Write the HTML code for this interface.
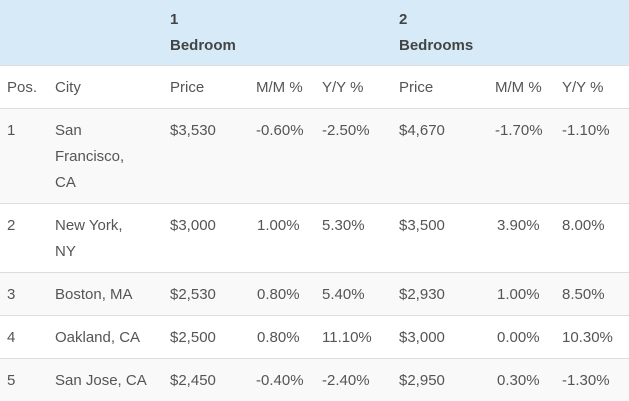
<!DOCTYPE html>
<html><head><style>
body{margin:0;width:629px;height:400px;overflow:hidden;background:#fff;font-family:"Liberation Sans",Arial,sans-serif;font-size:15px;color:#555;}
.r{position:absolute;left:0;width:629px;}
.t{position:absolute;line-height:26px;white-space:nowrap;margin-top:2px;}
.b{font-weight:bold;color:#444;}
</style></head><body>
<div class="r" style="top:0;height:65px;background:#d6ebf7;border-bottom:1px solid #ddd"></div>
<div class="r" style="top:108px;height:95px;background:#f9f9f9;border-top:1px solid #ddd"></div>
<div class="r" style="top:203px;height:69px;border-top:1px solid #ddd"></div>
<div class="r" style="top:272px;height:43px;background:#f9f9f9;border-top:1px solid #ddd"></div>
<div class="r" style="top:315px;height:43px;border-top:1px solid #ddd"></div>
<div class="r" style="top:358px;height:42px;background:#f9f9f9;border-top:1px solid #ddd"></div>

<div class="t b" style="left:170px;top:5px">1<br>Bedroom</div>
<div class="t b" style="left:399px;top:5px">2<br>Bedrooms</div>

<div class="t" style="left:7px;top:73px">Pos.</div>
<div class="t" style="left:55px;top:73px">City</div>
<div class="t" style="left:170px;top:73px">Price</div>
<div class="t" style="left:256px;top:73px">M/M %</div>
<div class="t" style="left:322px;top:73px">Y/Y %</div>
<div class="t" style="left:399px;top:73px">Price</div>
<div class="t" style="left:495px;top:73px">M/M %</div>
<div class="t" style="left:562px;top:73px">Y/Y %</div>

<div class="t" style="left:7px;top:116px">1</div>
<div class="t" style="left:55px;top:116px">San<br>Francisco,<br>CA</div>
<div class="t" style="left:170px;top:116px">$3,530</div>
<div class="t" style="left:256px;top:116px">-0.60%</div>
<div class="t" style="left:322px;top:116px">-2.50%</div>
<div class="t" style="left:399px;top:116px">$4,670</div>
<div class="t" style="left:495px;top:116px">-1.70%</div>
<div class="t" style="left:562px;top:116px">-1.10%</div>

<div class="t" style="left:7px;top:211px">2</div>
<div class="t" style="left:55px;top:211px">New York,<br>NY</div>
<div class="t" style="left:170px;top:211px">$3,000</div>
<div class="t" style="left:257px;top:211px">1.00%</div>
<div class="t" style="left:322px;top:211px">5.30%</div>
<div class="t" style="left:399px;top:211px">$3,500</div>
<div class="t" style="left:497px;top:211px">3.90%</div>
<div class="t" style="left:562px;top:211px">8.00%</div>

<div class="t" style="left:7px;top:280px">3</div>
<div class="t" style="left:55px;top:280px">Boston, MA</div>
<div class="t" style="left:170px;top:280px">$2,530</div>
<div class="t" style="left:257px;top:280px">0.80%</div>
<div class="t" style="left:322px;top:280px">5.40%</div>
<div class="t" style="left:399px;top:280px">$2,930</div>
<div class="t" style="left:497px;top:280px">1.00%</div>
<div class="t" style="left:562px;top:280px">8.50%</div>

<div class="t" style="left:7px;top:323px">4</div>
<div class="t" style="left:55px;top:323px">Oakland, CA</div>
<div class="t" style="left:170px;top:323px">$2,500</div>
<div class="t" style="left:257px;top:323px">0.80%</div>
<div class="t" style="left:322px;top:323px">11.10%</div>
<div class="t" style="left:399px;top:323px">$3,000</div>
<div class="t" style="left:497px;top:323px">0.00%</div>
<div class="t" style="left:562px;top:323px">10.30%</div>

<div class="t" style="left:7px;top:366px">5</div>
<div class="t" style="left:55px;top:366px">San Jose, CA</div>
<div class="t" style="left:170px;top:366px">$2,450</div>
<div class="t" style="left:256px;top:366px">-0.40%</div>
<div class="t" style="left:322px;top:366px">-2.40%</div>
<div class="t" style="left:399px;top:366px">$2,950</div>
<div class="t" style="left:497px;top:366px">0.30%</div>
<div class="t" style="left:562px;top:366px">-1.30%</div>
</body></html>
